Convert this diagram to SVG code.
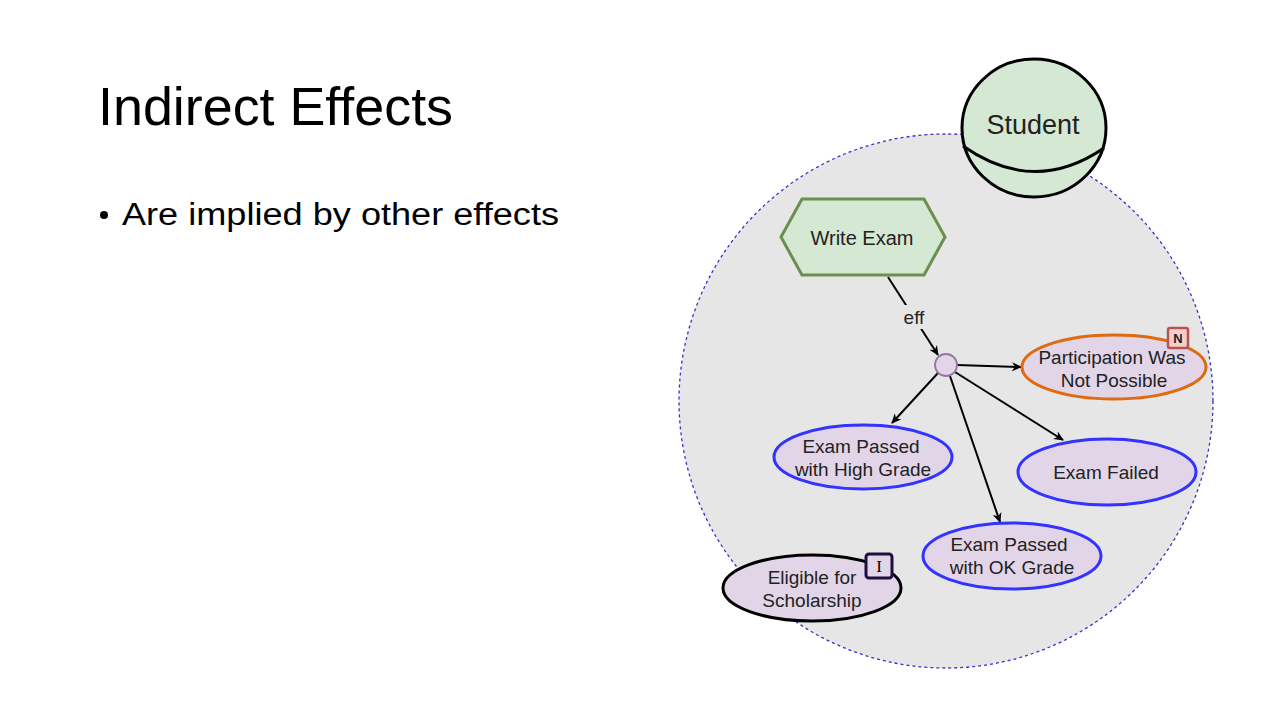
<svg xmlns="http://www.w3.org/2000/svg" width="1280" height="720" viewBox="0 0 1280 720">
<style>
.lbl{font-family:"Liberation Sans",Arial,sans-serif;fill:#222;text-anchor:middle;dominant-baseline:central}
.st{fill:#e1d5e7;stroke:#3333ff;stroke-width:3}
.edge{stroke:#000;stroke-width:2;fill:none;marker-end:url(#arr)}
.slide{font-family:"Liberation Sans",Arial,sans-serif;fill:#000}
</style>
<defs>
<marker id="arr" viewBox="0 0 10 10" refX="9" refY="5" markerWidth="10" markerHeight="10" markerUnits="userSpaceOnUse" orient="auto">
<path d="M0,0.5 L10,5 L0,9.5 L3,5 Z" fill="#000"/>
</marker>
</defs>
<rect width="1280" height="720" fill="#fff"/>
<g id="title">
<text class="slide" x="98" y="125" font-size="54" textLength="355" lengthAdjust="spacingAndGlyphs">Indirect Effects</text>
</g>
<g id="bullet">
<circle cx="104" cy="215" r="4" fill="#000"/>
<text class="slide" x="122" y="225" font-size="31" textLength="437" lengthAdjust="spacingAndGlyphs">Are implied by other effects</text>
</g>
<g id="scope">
<circle cx="946" cy="401" r="267" fill="#e6e6e6" stroke="#3333cc" stroke-width="1.3" stroke-dasharray="3 3"/>
</g>
<g id="student">
<ellipse cx="1034" cy="128" rx="72" ry="69" fill="#d5e8d4" stroke="#000" stroke-width="3"/>
<path d="M963,146 Q1034,196 1104,148" fill="none" stroke="#000" stroke-width="3"/>
<text class="lbl" x="1033" y="125" font-size="27">Student</text>
</g>
<g id="connectors">
<line class="edge" x1="888" y1="277" x2="938" y2="355"/>
<rect x="900" y="305" width="30" height="24" fill="#e6e6e6"/>
<text class="lbl" x="914" y="317" font-size="19">eff</text>
<line class="edge" x1="957" y1="365" x2="1021" y2="367"/>
<line class="edge" x1="938" y1="373" x2="892" y2="423"/>
<line class="edge" x1="955" y1="372" x2="1063" y2="440"/>
<line class="edge" x1="950" y1="376" x2="1000" y2="522"/>
</g>
<g id="write-exam">
<polygon points="781,237 802,199 924,199 945,237 924,275 802,275" fill="#d5e8d4" stroke="#6a8f4e" stroke-width="3"/>
<text class="lbl" x="862" y="238" font-size="20">Write Exam</text>
</g>
<g id="junction">
<circle cx="946" cy="365" r="11" fill="#e1d5e7" stroke="#9673a6" stroke-width="1.8"/>
</g>
<g id="participation">
<ellipse cx="1114" cy="367" rx="92" ry="32" fill="#e1d5e7" stroke="#e06a10" stroke-width="3"/>
<text class="lbl" x="1112" y="357" font-size="19">Participation Was</text>
<text class="lbl" x="1114" y="380" font-size="19">Not Possible</text>
<rect x="1168" y="328" width="20" height="20" rx="2" fill="#f8cecc" stroke="#b85450" stroke-width="2.5"/>
<text class="lbl" x="1178" y="338.5" font-size="13" font-weight="bold" fill="#000">N</text>
</g>
<g id="passed-high">
<ellipse class="st" cx="863" cy="457" rx="89" ry="32"/>
<text class="lbl" x="861" y="446" font-size="19">Exam Passed</text>
<text class="lbl" x="863" y="469" font-size="19">with High Grade</text>
</g>
<g id="failed">
<ellipse class="st" cx="1107" cy="472" rx="89" ry="33"/>
<text class="lbl" x="1106" y="472" font-size="19">Exam Failed</text>
</g>
<g id="passed-ok">
<ellipse class="st" cx="1012" cy="556" rx="89" ry="33"/>
<text class="lbl" x="1009" y="544" font-size="19">Exam Passed</text>
<text class="lbl" x="1012" y="567" font-size="19">with OK Grade</text>
</g>
<g id="scholarship">
<ellipse cx="812" cy="588" rx="89" ry="33" fill="#e1d5e7" stroke="#000" stroke-width="3"/>
<text class="lbl" x="812" y="577" font-size="19">Eligible for</text>
<text class="lbl" x="812" y="600" font-size="19">Scholarship</text>
<rect x="866" y="554" width="26" height="24" rx="3" fill="#e1d5e7" stroke="#1f0f3d" stroke-width="3"/>
<text x="879" y="566" font-size="17" font-family="'Liberation Serif',serif" fill="#000" text-anchor="middle" dominant-baseline="central">I</text>
</g>
</svg>
